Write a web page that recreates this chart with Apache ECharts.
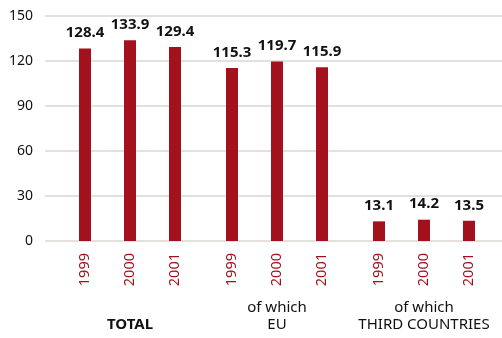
<!DOCTYPE html>
<html>
<head>
<meta charset="utf-8">
<style>
  html, body { margin: 0; padding: 0; background: #ffffff; }
  #chart { width: 502px; height: 338px; }
</style>
<script src="https://cdn.jsdelivr.net/npm/echarts@6/dist/echarts.min.js"></script>
</head>
<body>
<div id="chart"></div>
<script>
// Groups of bars and the years shown within each group
const groups = ['TOTAL', 'of which\nEU', 'of which\nTHIRD COUNTRIES'];
const years = ['1999', '2000', '2001'];

// Values per group, one per year
const totalValues = [128.4, 133.9, 129.4];
const euValues = [115.3, 119.7, 115.9];
const thirdValues = [13.1, 14.2, 13.5];

// Value axis ticks
const yTicks = [0, 30, 60, 90, 120, 150];

const groupValues = [totalValues, euValues, thirdValues];

// Horizontal layout: bars one unit apart inside a group, groups a bit further apart
const GROUP_STEP = 3.2667;
const barPos = (g, i) => g * GROUP_STEP + i;

const points = [];
const yearAt = {};
groupValues.forEach((vals, g) => {
  vals.forEach((v, i) => {
    const x = barPos(g, i);
    points.push([x, v]);
    yearAt[x.toFixed(4)] = years[i];
  });
});
const yearPositions = points.map(p => p[0]);
const groupPositions = groups.map((_, g) => barPos(g, 1));
const groupAt = {};
groupPositions.forEach((x, g) => { groupAt[x.toFixed(4)] = groups[g]; });

const FONT = "'Noto Sans', sans-serif";
const RED = '#a3121c';

const chart = echarts.init(document.getElementById('chart'), null, { renderer: 'canvas' });
chart.setOption({
  animation: false,
  backgroundColor: '#ffffff',
  grid: { left: 45, right: 0, top: 16, bottom: 97, containLabel: false },
  xAxis: [
    {
      type: 'value',
      min: -0.8889,
      max: 9.2667,
      axisLine: { show: false },
      axisTick: { show: false },
      splitLine: { show: false },
      axisLabel: {
        customValues: yearPositions,
        rotate: 90,
        margin: 12,
        color: RED,
        fontFamily: FONT,
        fontSize: 14.5,
        formatter: v => yearAt[Number(v).toFixed(4)] || ''
      }
    },
    {
      type: 'value',
      position: 'bottom',
      min: -0.8889,
      max: 9.2667,
      axisLine: { show: false },
      axisTick: { show: false },
      splitLine: { show: false },
      axisLabel: {
        customValues: groupPositions,
        margin: 58,
        color: '#111111',
        fontFamily: FONT,
        fontSize: 15,
        lineHeight: 17,
        formatter: v => {
          const name = groupAt[Number(v).toFixed(4)] || '';
          return name.indexOf('\n') < 0 ? ' \n{b|' + name + '}' : name;
        },
        rich: {
          b: { fontWeight: 'bold', fontFamily: FONT, fontSize: 15, lineHeight: 17, color: '#111111' }
        }
      }
    }
  ],
  yAxis: {
    type: 'value',
    min: 0,
    max: 150,
    interval: 30,
    axisLine: { show: false },
    axisTick: { show: false },
    splitLine: { lineStyle: { color: '#dbd7d2', width: 1.5 } },
    axisLabel: {
      margin: 12,
      color: '#111111',
      fontFamily: FONT,
      fontSize: 14,
      customValues: yTicks
    }
  },
  series: [{
    type: 'bar',
    xAxisIndex: 0,
    data: points,
    barWidth: 12,
    itemStyle: { color: RED },
    label: {
      show: true,
      position: 'top',
      distance: 8,
      color: '#111111',
      fontFamily: FONT,
      fontSize: 15,
      fontWeight: 'bold',
      formatter: p => p.value[1].toFixed(1)
    }
  }]
});
</script>
</body>
</html>
